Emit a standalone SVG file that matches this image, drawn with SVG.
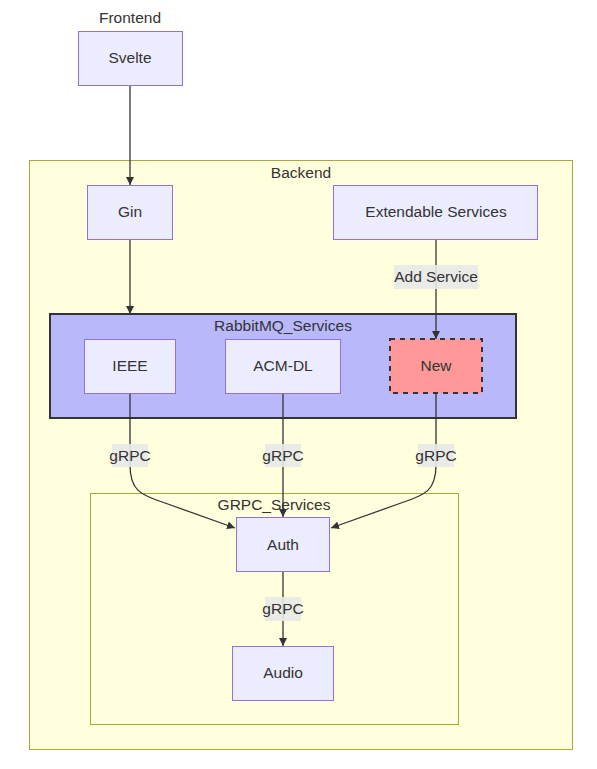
<svg xmlns="http://www.w3.org/2000/svg" width="597" height="769" viewBox="0 0 597 769">
<style>
text{font-family:"Liberation Sans",Arial,sans-serif;font-size:15.5px;fill:#333;text-anchor:middle;dominant-baseline:central}
.node rect{fill:#ececff;stroke:#9370db;stroke-width:1}
.cluster{fill:#ffffde;stroke:#aaaa33;stroke-width:1}
.edge{fill:none;stroke:#333;stroke-width:1.3}
.lbl{fill:#e8e8e8;opacity:0.9}
</style>
<defs>
<marker id="arr" viewBox="0 0 10 10" refX="10" refY="5" markerWidth="8" markerHeight="8" markerUnits="userSpaceOnUse" orient="auto">
<path d="M0,0 L10,5 L0,10 z" fill="#333"/>
</marker>
</defs>
<rect width="597" height="769" fill="#fff"/>
<g id="Frontend"><text x="130" y="17">Frontend</text></g>
<g id="Backend"><rect class="cluster" x="29.5" y="160.5" width="543" height="589"/><text x="301" y="172">Backend</text></g>
<g id="RabbitMQ_Services"><rect x="50" y="314" width="466" height="104" fill="#b8b8fa" stroke="#333" stroke-width="2"/><text x="283" y="325.5">RabbitMQ_Services</text></g>
<g id="GRPC_Services"><rect class="cluster" x="90.5" y="493.5" width="368" height="231"/><text x="274" y="504.5">GRPC_Services</text></g>
<g id="connectors">
<path class="edge" d="M130,85 V185" marker-end="url(#arr)"/>
<path class="edge" d="M130,240 V314" marker-end="url(#arr)"/>
<path class="edge" d="M436,240 V339" marker-end="url(#arr)"/>
<path class="edge" d="M130,393 V465 C130,490 140,495 165,503 L235,528" marker-end="url(#arr)"/>
<path class="edge" d="M283,393 V517" marker-end="url(#arr)"/>
<path class="edge" d="M436,393 V465 C436,490 426,495 401,503 L331,528" marker-end="url(#arr)"/>
<path class="edge" d="M283,572 V646" marker-end="url(#arr)"/>
<rect class="lbl" x="394" y="265" width="84" height="24"/><text x="436" y="276">Add Service</text>
<rect class="lbl" x="112" y="444" width="36" height="23"/><text x="130" y="455">gRPC</text>
<rect class="lbl" x="265" y="444" width="36" height="23"/><text x="283" y="455">gRPC</text>
<rect class="lbl" x="418" y="444" width="36" height="23"/><text x="436" y="455">gRPC</text>
<rect class="lbl" x="265" y="597" width="36" height="24"/><text x="283" y="608">gRPC</text>
</g>
<g id="Svelte" class="node"><rect x="78.5" y="31.5" width="104" height="54"/><text x="130" y="57">Svelte</text></g>
<g id="Gin" class="node"><rect x="87.5" y="185.5" width="85" height="54"/><text x="130" y="211.5">Gin</text></g>
<g id="ExtendableServices" class="node"><rect x="333.5" y="185.5" width="204" height="54"/><text x="436" y="211.5">Extendable Services</text></g>
<g id="IEEE" class="node"><rect x="84.5" y="339.5" width="91" height="54"/><text x="130" y="365">IEEE</text></g>
<g id="ACM-DL" class="node"><rect x="225.5" y="339.5" width="115" height="54"/><text x="283" y="365">ACM-DL</text></g>
<g id="New"><rect x="390" y="339" width="92" height="54" fill="#ff9999" stroke="#333" stroke-width="2" stroke-dasharray="5,5"/><text x="436" y="365">New</text></g>
<g id="Auth" class="node"><rect x="236.5" y="517.5" width="93" height="54"/><text x="283" y="544">Auth</text></g>
<g id="Audio" class="node"><rect x="232.5" y="646.5" width="101" height="54"/><text x="283" y="672">Audio</text></g>
</svg>
